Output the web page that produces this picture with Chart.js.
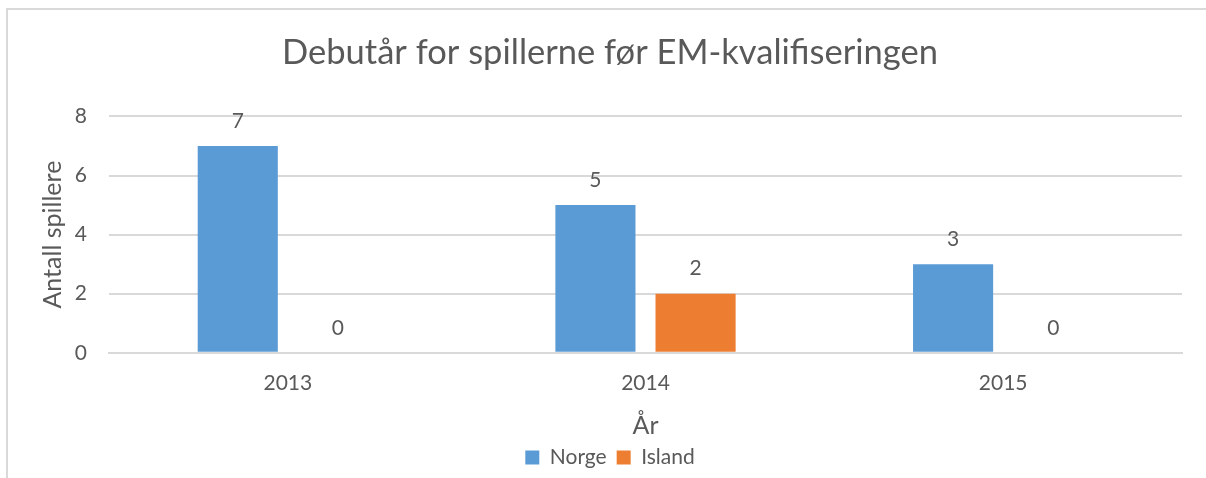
<!DOCTYPE html>
<html>
<head>
<meta charset="utf-8">
<script src="https://cdn.jsdelivr.net/npm/chart.js@4/dist/chart.umd.min.js"></script>
<style>
  html, body { margin: 0; padding: 0; background: #fff; }
  #frame {
    position: absolute; left: 6px; top: 8px;
    width: 1198px; height: 468px;
    border-left: 2px solid #d9d9d9; border-top: 2px solid #d9d9d9;
  }
  #chart { display: block; }
</style>
</head>
<body>
<div id="frame"><canvas id="chart" width="1198" height="468"></canvas></div>
<script>
// chart data
const years = ['2013', '2014', '2015'];
const norge = [7, 5, 3];
const island = [0, 2, 0];
const yTicks = [0, 2, 4, 6, 8];

const TEXT = '#595959';
const GRID = '#d9d9d9';
const FONT = 'Lato';

// draws the value above each bar, like the Excel data labels
const valueLabels = {
  id: 'valueLabels',
  afterDatasetsDraw(chart) {
    const ctx = chart.ctx;
    ctx.save();
    ctx.font = '21px ' + FONT;
    ctx.fillStyle = TEXT;
    ctx.textAlign = 'center';
    ctx.textBaseline = 'middle';
    chart.data.datasets.forEach((ds, i) => {
      chart.getDatasetMeta(i).data.forEach((bar, j) => {
        ctx.fillText(String(ds.data[j]), bar.x, bar.y - 25);
      });
    });
    ctx.restore();
  }
};

new Chart(document.getElementById('chart'), {
  type: 'bar',
  data: {
    labels: years,
    datasets: [
      { label: 'Norge', data: norge, backgroundColor: '#5b9bd5' },
      { label: 'Island', data: island, backgroundColor: '#ed7d31' }
    ]
  },
  options: {
    responsive: false,
    animation: false,
    categoryPercentage: 0.56,
    barPercentage: 0.8,
    layout: { padding: { left: 6, right: 0, top: 0, bottom: 0 } },
    plugins: {
      title: {
        display: true,
        text: 'Debutår for spillerne før EM-kvalifiseringen',
        color: TEXT,
        font: { family: FONT, size: 34.5, weight: 'normal' },
        padding: { top: 22, bottom: 43 }
      },
      legend: {
        position: 'bottom',
        labels: {
          color: TEXT,
          font: { family: FONT, size: 21 },
          boxWidth: 14, boxHeight: 14,
          padding: 10
        }
      },
      tooltip: { enabled: false }
    },
    scales: {
      x: {
        grid: { display: false, drawTicks: false },
        border: { display: true, color: GRID, width: 2 },
        ticks: { color: TEXT, font: { family: FONT, size: 21 }, padding: 18 },
        title: {
          display: true, text: 'År', color: TEXT,
          font: { family: FONT, size: 25, lineHeight: 0.88 },
          padding: { top: 1, bottom: 0 }
        }
      },
      y: {
        min: 0, max: 8,
        afterBuildTicks(axis) { axis.ticks = yTicks.map(v => ({ value: v })); },
        afterFit(axis) { axis.width = 95; },
        grid: { color: GRID, lineWidth: 2, drawTicks: false },
        border: { display: false },
        ticks: { color: TEXT, font: { family: FONT, size: 21 }, padding: 22 },
        title: {
          display: true, text: 'Antall spillere', color: TEXT,
          font: { family: FONT, size: 25 },
          padding: { top: 24, bottom: 0 }
        }
      },
      // empty right-hand axis, only to keep the right margin of the plot
      yRight: {
        position: 'right',
        display: true,
        grid: { display: false, drawTicks: false },
        border: { display: false },
        ticks: { display: false },
        afterFit(axis) { axis.width = 24; }
      }
    }
  },
  plugins: [valueLabels]
});
</script>
</body>
</html>
